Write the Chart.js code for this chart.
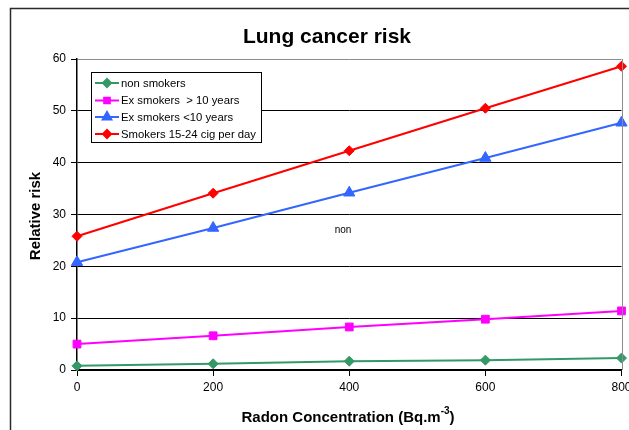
<!DOCTYPE html>
<html>
<head>
<meta charset="utf-8">
<script src="https://cdn.jsdelivr.net/npm/chart.js@4.4.1/dist/chart.umd.min.js"></script>
<style>
  html, body { margin: 0; padding: 0; background: #fff; }
  #wrap { width: 629px; height: 430px; position: relative; }
</style>
</head>
<body>
<div id="wrap"><canvas id="c" width="629" height="430"></canvas></div>
<script>
// Radon concentration (Bq/m3) on the x axis
const radon = [0, 200, 400, 600, 800];
// Relative risk per group
const nonSmokers = [0.8, 1.2, 1.7, 1.9, 2.3];
const exSmokersOver10 = [5.0, 6.6, 8.3, 9.8, 11.4];
const exSmokersUnder10 = [20.8, 27.4, 34.2, 40.9, 47.7];
const smokers = [25.8, 34.1, 42.3, 50.5, 58.6];
const seriesNames = ['non smokers', 'Ex smokers  > 10 years', 'Ex smokers <10 years', 'Smokers 15-24 cig per day'];
const yTicks = [0, 10, 20, 30, 40, 50, 60];

const FONT = '"Liberation Sans", Arial, sans-serif';
const pts = arr => arr.map((v, i) => ({ x: radon[i], y: v }));

const styles = [
  { color: '#339966', point: 'rectRot', radius: 5 },
  { color: '#FF00FF', point: 'rect', radius: 5.5 },
  { color: '#3366FF', point: 'triangle', radius: 6.5 },
  { color: '#FF0000', point: 'rectRot', radius: 5 }
];
const values = [nonSmokers, exSmokersOver10, exSmokersUnder10, smokers];

const datasets = values.map((v, i) => ({
  label: seriesNames[i],
  data: pts(v),
  borderColor: styles[i].color,
  backgroundColor: styles[i].color,
  borderWidth: 2,
  pointStyle: styles[i].point,
  pointRadius: styles[i].radius,
  pointHoverRadius: styles[i].radius,
  pointBorderWidth: 1,
  clip: false,
  tension: 0
}));

// Frame, titles, inline legend and the stray label
const decor = {
  id: 'decor',
  beforeDraw(chart) {
    const ctx = chart.ctx;
    ctx.save();
    ctx.fillStyle = '#fff';
    ctx.fillRect(0, 0, chart.width, chart.height);
    ctx.strokeStyle = '#2a2a2a';
    ctx.lineWidth = 1.5;
    ctx.beginPath();
    ctx.moveTo(10.5, 432);
    ctx.lineTo(10.5, 8.5);
    ctx.lineTo(632, 8.5);
    ctx.stroke();
    ctx.restore();
  },
  afterDatasetsDraw(chart) {
    const ctx = chart.ctx;
    const a = chart.chartArea;
    ctx.save();
    // right edge of the plot
    ctx.strokeStyle = '#8c8c8c';
    ctx.lineWidth = 1;
    ctx.beginPath();
    ctx.moveTo(Math.round(a.right) + 0.5, a.top);
    ctx.lineTo(Math.round(a.right) + 0.5, a.bottom);
    ctx.stroke();

    // title
    ctx.fillStyle = '#000';
    ctx.textAlign = 'center';
    ctx.textBaseline = 'middle';
    ctx.font = 'bold 21px ' + FONT;
    ctx.fillText('Lung cancer risk', 327, 37);

    // y axis title
    ctx.save();
    ctx.translate(36, 216);
    ctx.rotate(-Math.PI / 2);
    ctx.font = 'bold 15px ' + FONT;
    ctx.fillText('Relative risk', 0, 0);
    ctx.restore();

    // x axis title with superscript
    ctx.font = 'bold 15px ' + FONT;
    const main = 'Radon Concentration (Bq.m';
    const sup = '-3';
    const close = ')';
    ctx.textAlign = 'left';
    const wMain = ctx.measureText(main).width;
    ctx.font = 'bold 10px ' + FONT;
    const wSup = ctx.measureText(sup).width;
    ctx.font = 'bold 15px ' + FONT;
    const wClose = ctx.measureText(close).width;
    let x0 = 348 - (wMain + wSup + wClose) / 2;
    ctx.fillText(main, x0, 418);
    ctx.font = 'bold 10px ' + FONT;
    ctx.fillText(sup, x0 + wMain, 411);
    ctx.font = 'bold 15px ' + FONT;
    ctx.fillText(close, x0 + wMain + wSup, 418);

    // stray label inside the plot
    ctx.font = '10px ' + FONT;
    ctx.textAlign = 'center';
    ctx.fillText('non', 343, 230);

    // legend box
    const lx = 91.5, ly = 72.5, lw = 170, lh = 70;
    ctx.fillStyle = '#fff';
    ctx.fillRect(lx, ly, lw, lh);
    ctx.strokeStyle = '#000';
    ctx.lineWidth = 1;
    ctx.strokeRect(lx, ly, lw, lh);
    const rows = [83, 100.5, 117, 134];
    chart.data.datasets.forEach((ds, i) => {
      const y = rows[i];
      ctx.strokeStyle = ds.borderColor;
      ctx.lineWidth = 2;
      ctx.beginPath();
      ctx.moveTo(95, y);
      ctx.lineTo(119, y);
      ctx.stroke();
      Chart.helpers.drawPoint(ctx, {
        pointStyle: ds.pointStyle,
        radius: ds.pointStyle === 'triangle' ? 5 : 4,
        rotation: 0,
        borderWidth: 1
      }, 107, y);
      ctx.fillStyle = ds.borderColor;
      ctx.fill();
      ctx.fillStyle = '#000';
      ctx.font = '11.3px ' + FONT;
      ctx.textAlign = 'left';
      ctx.textBaseline = 'middle';
      ctx.fillText(ds.label, 121, y + 0.5);
    });
    ctx.restore();
  }
};

new Chart(document.getElementById('c'), {
  type: 'line',
  data: { datasets },
  options: {
    responsive: false,
    animation: false,
    devicePixelRatio: 1,
    layout: { padding: { left: 0, top: 59, right: 7, bottom: 0 } },
    plugins: {
      legend: { display: false },
      title: { display: false },
      tooltip: { enabled: false }
    },
    scales: {
      x: {
        type: 'linear',
        min: radon[0],
        max: radon[radon.length - 1],
        afterBuildTicks: s => { s.ticks = radon.map(v => ({ value: v })); },
        afterFit: s => { s.height = 60; s.paddingLeft = 0; s.paddingRight = 0; },
        grid: { drawOnChartArea: false, drawTicks: true, tickLength: 6, color: '#000' },
        border: { color: '#000', width: 1.5 },
        ticks: { color: '#000', font: { family: FONT, size: 12 }, padding: 4, maxRotation: 0 }
      },
      y: {
        min: 0,
        max: 60,
        afterBuildTicks: s => { s.ticks = yTicks.map(v => ({ value: v })); },
        afterFit: s => { s.width = 77; s.paddingTop = 0; s.paddingBottom = 0; },
        grid: {
          color: ctx => (ctx.tick && ctx.tick.value === 60 ? '#8c8c8c' : '#000'),
          tickColor: '#000',
          tickLength: 6,
          lineWidth: 1
        },
        border: { color: '#000', width: 1.5 },
        ticks: { color: '#000', font: { family: FONT, size: 12 }, padding: 5 }
      }
    }
  },
  plugins: [decor]
});
</script>
</body>
</html>
